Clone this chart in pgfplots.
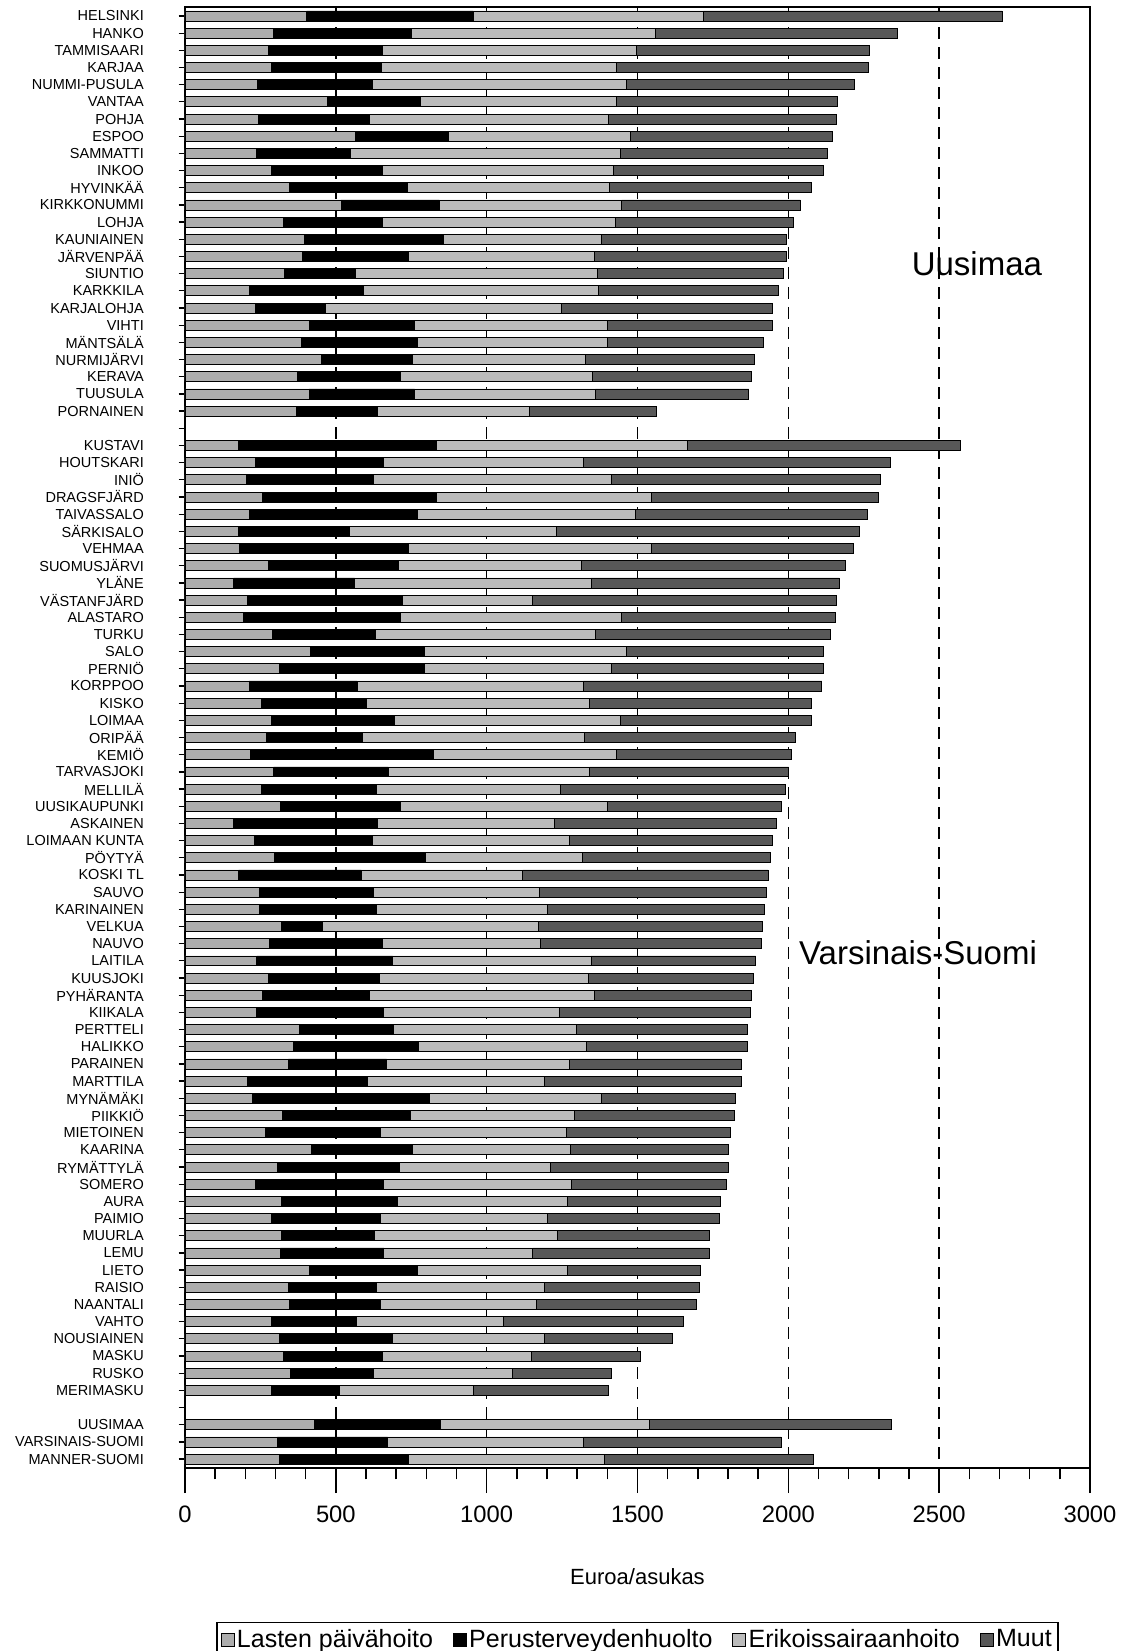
\documentclass[border=0pt]{standalone}
\usepackage{fontspec}
\setmainfont{Liberation Sans}
\usepackage{pgfplots}
\usepackage{pgfplotstable}
\pgfplotsset{compat=1.18}

\definecolor{lasten}{HTML}{ADADAD}
\definecolor{erik}{HTML}{BBBBBB}
\definecolor{muut}{HTML}{585858}

\pgfplotsset{sw/.style={legend image code/.code={\draw[##1, line width=0.3pt] (0pt,-2.6pt) rectangle (5.2pt,2.6pt);}}}

% row lasten perus erik muut (euroa/asukas)
\pgfplotstableread{
row lasten perus erik muut
0 403 552 763 990
1 294 458 807 804
2 275 380 840 775
3 287 364 779 836
4 240 382 842 754
5 471 310 649 734
6 242 370 792 756
7 566 306 606 668
8 236 312 895 688
9 285 370 765 697
10 345 393 670 670
11 517 326 604 593
12 325 330 773 590
13 397 461 521 616
14 389 353 616 637
15 330 236 800 619
16 213 378 780 595
17 232 233 784 698
18 411 348 642 546
19 387 384 630 517
20 453 302 572 562
21 374 339 639 527
22 411 350 599 509
23 368 271 504 420
25 178 655 833 904
26 232 427 662 1017
27 205 421 788 891
28 256 577 713 753
29 213 556 723 770
30 178 368 684 1007
31 180 560 806 668
32 275 432 606 876
33 161 401 784 823
34 207 513 430 1010
35 194 519 734 709
36 291 339 730 780
37 416 378 668 653
38 314 480 620 701
39 213 358 750 790
40 252 348 742 735
41 285 408 750 634
42 271 316 736 701
43 217 608 605 579
44 294 380 668 659
45 252 383 608 746
46 316 397 687 576
47 161 478 587 734
48 229 391 655 672
49 296 502 519 624
50 178 407 535 813
51 248 378 550 751
52 246 387 568 721
53 320 135 717 742
54 281 374 523 734
55 238 450 658 546
56 275 368 694 546
57 256 354 746 523
58 238 420 582 635
59 378 313 607 565
60 358 417 556 532
61 343 325 607 569
62 207 397 587 653
63 223 587 569 446
64 323 423 546 529
65 267 382 614 544
66 420 335 523 523
67 306 405 500 590
68 232 427 623 514
69 320 383 566 507
70 285 364 552 571
71 320 309 607 503
72 316 343 494 584
73 411 358 500 439
74 343 292 556 514
75 345 304 517 528
76 287 281 488 596
77 314 374 503 426
78 325 330 494 362
79 349 275 461 329
80 285 228 442 449
82 430 418 692 800
83 306 366 649 655
84 314 426 651 691
}\kulut

\begin{document}
\begin{tikzpicture}
\begin{axis}[
  scale only axis, width=362pt, height=584.4pt,
  xbar stacked, bar width=0.58,
  xmin=0, xmax=3000, ymin=-0.52, ymax=84.52, y dir=reverse,
  axis line style={line width=0.8pt},
  tick align=outside, xtick pos=bottom, ytick pos=left,
  xtick={0,500,...,3000}, minor x tick num=4,
  xtick style={black, line width=0.6pt, /pgfplots/major tick length=10pt, /pgfplots/minor tick length=4.5pt},
  ytick style={black, line width=0.5pt, /pgfplots/major tick length=2.5pt},
  ytick={0,...,84},
  yticklabels={HELSINKI,HANKO,TAMMISAARI,KARJAA,NUMMI-PUSULA,VANTAA,POHJA,ESPOO,SAMMATTI,INKOO,HYVINKÄÄ,KIRKKONUMMI,LOHJA,KAUNIAINEN,JÄRVENPÄÄ,SIUNTIO,KARKKILA,KARJALOHJA,VIHTI,MÄNTSÄLÄ,NURMIJÄRVI,KERAVA,TUUSULA,PORNAINEN,{},KUSTAVI,HOUTSKARI,INIÖ,DRAGSFJÄRD,TAIVASSALO,SÄRKISALO,VEHMAA,SUOMUSJÄRVI,YLÄNE,VÄSTANFJÄRD,ALASTARO,TURKU,SALO,PERNIÖ,KORPPOO,KISKO,LOIMAA,ORIPÄÄ,KEMIÖ,TARVASJOKI,MELLILÄ,UUSIKAUPUNKI,ASKAINEN,LOIMAAN KUNTA,PÖYTYÄ,KOSKI TL,SAUVO,KARINAINEN,VELKUA,NAUVO,LAITILA,KUUSJOKI,PYHÄRANTA,KIIKALA,PERTTELI,HALIKKO,PARAINEN,MARTTILA,MYNÄMÄKI,PIIKKIÖ,MIETOINEN,KAARINA,RYMÄTTYLÄ,SOMERO,AURA,PAIMIO,MUURLA,LEMU,LIETO,RAISIO,NAANTALI,VAHTO,NOUSIAINEN,MASKU,RUSKO,MERIMASKU,{},UUSIMAA,VARSINAIS-SUOMI,MANNER-SUOMI},
  yticklabel style={font=\fontsize{5.8}{6}\selectfont, inner sep=0pt, xshift=-12pt},
  xticklabel style={font=\fontsize{9.5}{10}\selectfont, yshift=-7.5pt},
  /pgf/number format/assume math mode=true,
  /pgf/number format/1000 sep={},
  xmajorgrids,
  major x grid style={black, line width=0.6pt, dash pattern=on 4.8pt off 3.2pt},
  xlabel={Euroa/asukas},
  xlabel style={font=\fontsize{8.8}{10}\selectfont, at={(axis description cs:0.5,0)}, anchor=center, yshift=-43.6pt},
  legend columns=4,
  legend style={at={(axis description cs:0.5,0)}, anchor=center, yshift=-68.8pt,
    draw=black, line width=0.5pt, font=\fontsize{10}{12}\selectfont,
    inner sep=1.5pt, nodes={inner sep=1pt},
    /tikz/every even column/.append style={column sep=7pt}},
]
\addplot[fill=lasten, draw=black, line width=0.3pt, sw] table[x=lasten, y=row] {\kulut};
\addlegendentry{Lasten päivähoito}
\addplot[fill=black, draw=black, line width=0.3pt, sw] table[x=perus, y=row] {\kulut};
\addlegendentry{Perusterveydenhuolto}
\addplot[fill=erik, draw=black, line width=0.3pt, sw] table[x=erik, y=row] {\kulut};
\addlegendentry{Erikoissairaanhoito}
\addplot[fill=muut, draw=black, line width=0.3pt, sw] table[x=muut, y=row] {\kulut};
\addlegendentry{Muut}
\node[font=\fontsize{13.2}{15}\selectfont] at (axis cs:2625,14.4) {Uusimaa};
\node[font=\fontsize{13.2}{15}\selectfont] at (axis cs:2430,54.5) {Varsinais-Suomi};
\coordinate (pl) at (axis cs:0,84.52);
\coordinate (pr) at (axis cs:3000,-0.52);
\end{axis}
\pgfresetboundingbox
\path[use as bounding box] ([shift={(-74pt,-73.2pt)}]pl) rectangle ([shift={(14pt,2.8pt)}]pr);
\end{tikzpicture}
\end{document}
